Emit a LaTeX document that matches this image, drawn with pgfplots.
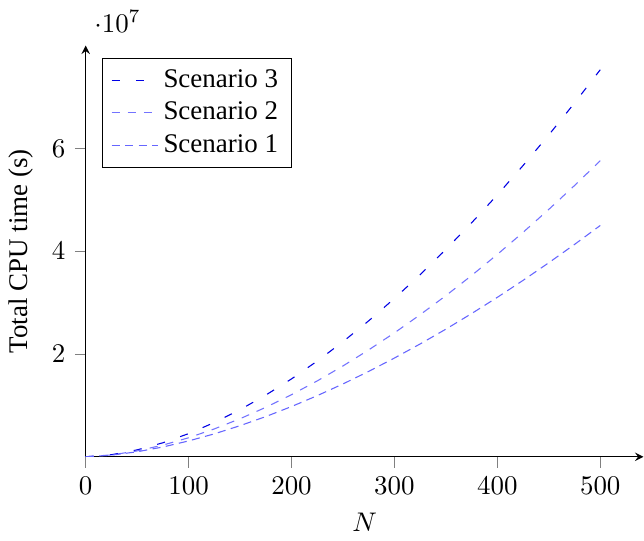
\documentclass[border=0pt]{standalone}
\usepackage{fontspec}
\setmainfont{Liberation Serif}
\usepackage{pgfplots}
\pgfplotsset{compat=1.18}
\begin{document}
\begin{tikzpicture}
\begin{axis}[
  scale only axis,
  width=207pt, height=152.6pt,
  axis lines=left,
  tick align=outside,
  major tick length=4pt,
  tick style={gray},
  xmin=0, xmax=542,
  ymin=0, ymax=8e7,
  xtick={0,100,200,300,400,500},
  ytick={2e7,4e7,6e7},
  xlabel={$N$},
  ylabel={Total CPU time (s)},
  legend pos=north west,
  legend cell align=left,
]
\addplot[blue!90!black, loosely dashed] coordinates {
(0,0) (25,0.040e7) (50,0.134e7) (75,0.272e7) (100,0.450e7) (125,0.666e7)
(150,0.916e7) (175,1.200e7) (200,1.515e7) (225,1.862e7) (250,2.239e7)
(275,2.645e7) (300,3.080e7) (325,3.543e7) (350,4.034e7) (375,4.552e7)
(400,5.095e7) (425,5.666e7) (450,6.262e7) (475,6.883e7) (500,7.530e7)
};
\addlegendentry{Scenario 3}
\addplot[blue!55, dashed] coordinates {
(0,0) (25,0.035e7) (50,0.114e7) (75,0.227e7) (100,0.370e7) (125,0.542e7)
(150,0.740e7) (175,0.962e7) (200,1.208e7) (225,1.476e7) (250,1.767e7)
(275,2.079e7) (300,2.411e7) (325,2.764e7) (350,3.135e7) (375,3.527e7)
(400,3.937e7) (425,4.366e7) (450,4.813e7) (475,5.277e7) (500,5.760e7)
};
\addlegendentry{Scenario 2}
\addplot[blue!60, densely dashed] coordinates {
(0,0) (25,0.031e7) (50,0.097e7) (75,0.190e7) (100,0.308e7) (125,0.446e7)
(150,0.605e7) (175,0.782e7) (200,0.977e7) (225,1.189e7) (250,1.417e7)
(275,1.661e7) (300,1.921e7) (325,2.195e7) (350,2.483e7) (375,2.786e7)
(400,3.102e7) (425,3.432e7) (450,3.775e7) (475,4.131e7) (500,4.500e7)
};
\addlegendentry{Scenario 1}
\end{axis}
\path ([yshift=4pt]current bounding box.north) coordinate (topextra);
\end{tikzpicture}
\end{document}
